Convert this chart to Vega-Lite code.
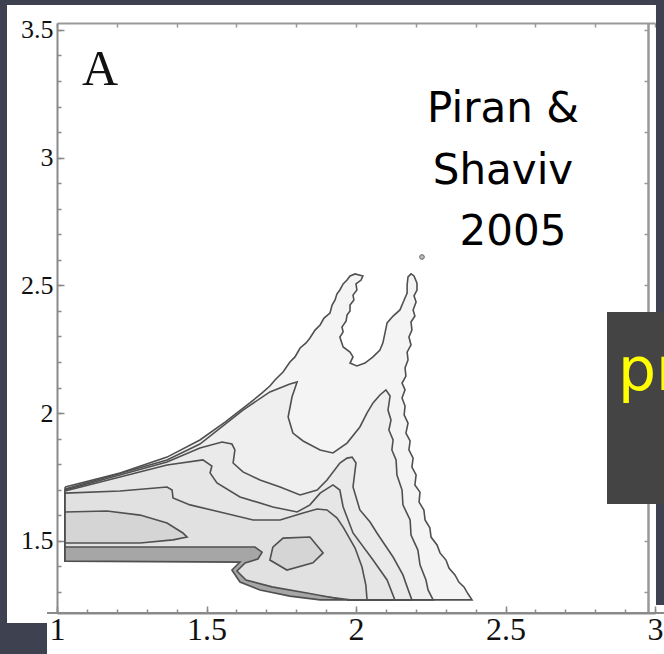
{
  "$schema": "https://vega.github.io/schema/vega-lite/v6.json",
  "width": 598,
  "height": 590,
  "autosize": {"type": "none"},
  "padding": {"left": 57, "top": 23, "right": 9, "bottom": 41},
  "background": "#ffffff",
  "config": {"view": {"stroke": null}},
  "datasets": {
    "one": [{}],
    "c": [
      {"g":"p1","i":0,"x":1.027,"y":1.711},{"g":"p1","i":1,"x":1.211,"y":1.766},{"g":"p1","i":2,"x":1.368,"y":1.828},{"g":"p1","i":3,"x":1.478,"y":1.895},{"g":"p1","i":4,"x":1.562,"y":1.965},{"g":"p1","i":5,"x":1.645,"y":2.040},{"g":"p1","i":6,"x":1.686,"y":2.079},{"g":"p1","i":7,"x":1.712,"y":2.106},{"g":"p1","i":8,"x":1.729,"y":2.130},{"g":"p1","i":9,"x":1.756,"y":2.161},{"g":"p1","i":10,"x":1.779,"y":2.200},{"g":"p1","i":11,"x":1.796,"y":2.220},{"g":"p1","i":12,"x":1.813,"y":2.255},{"g":"p1","i":13,"x":1.833,"y":2.275},{"g":"p1","i":14,"x":1.846,"y":2.294},{"g":"p1","i":15,"x":1.863,"y":2.325},{"g":"p1","i":16,"x":1.880,"y":2.345},{"g":"p1","i":17,"x":1.893,"y":2.372},{"g":"p1","i":18,"x":1.913,"y":2.392},{"g":"p1","i":19,"x":1.920,"y":2.423},{"g":"p1","i":20,"x":1.930,"y":2.443},{"g":"p1","i":21,"x":1.936,"y":2.466},{"g":"p1","i":22,"x":1.946,"y":2.482},{"g":"p1","i":23,"x":1.957,"y":2.506},{"g":"p1","i":24,"x":1.970,"y":2.521},{"g":"p1","i":25,"x":1.980,"y":2.537},{"g":"p1","i":26,"x":1.997,"y":2.545},{"g":"p1","i":27,"x":2.023,"y":2.537},{"g":"p1","i":28,"x":2.017,"y":2.521},{"g":"p1","i":29,"x":2.000,"y":2.506},{"g":"p1","i":30,"x":2.003,"y":2.482},{"g":"p1","i":31,"x":1.990,"y":2.462},{"g":"p1","i":32,"x":1.993,"y":2.443},{"g":"p1","i":33,"x":1.980,"y":2.423},{"g":"p1","i":34,"x":1.980,"y":2.400},{"g":"p1","i":35,"x":1.970,"y":2.384},{"g":"p1","i":36,"x":1.967,"y":2.361},{"g":"p1","i":37,"x":1.953,"y":2.337},{"g":"p1","i":38,"x":1.957,"y":2.318},{"g":"p1","i":39,"x":1.946,"y":2.298},{"g":"p1","i":40,"x":1.957,"y":2.259},{"g":"p1","i":41,"x":1.980,"y":2.239},{"g":"p1","i":42,"x":1.990,"y":2.220},{"g":"p1","i":43,"x":1.980,"y":2.196},{"g":"p1","i":44,"x":2.003,"y":2.185},{"g":"p1","i":45,"x":2.030,"y":2.196},{"g":"p1","i":46,"x":2.057,"y":2.220},{"g":"p1","i":47,"x":2.080,"y":2.247},{"g":"p1","i":48,"x":2.090,"y":2.275},{"g":"p1","i":49,"x":2.097,"y":2.314},{"g":"p1","i":50,"x":2.104,"y":2.353},{"g":"p1","i":51,"x":2.124,"y":2.380},{"g":"p1","i":52,"x":2.147,"y":2.404},{"g":"p1","i":53,"x":2.161,"y":2.443},{"g":"p1","i":54,"x":2.171,"y":2.470},{"g":"p1","i":55,"x":2.171,"y":2.502},{"g":"p1","i":56,"x":2.174,"y":2.533},{"g":"p1","i":57,"x":2.184,"y":2.545},{"g":"p1","i":58,"x":2.194,"y":2.537},{"g":"p1","i":59,"x":2.204,"y":2.509},{"g":"p1","i":60,"x":2.204,"y":2.482},{"g":"p1","i":61,"x":2.194,"y":2.459},{"g":"p1","i":62,"x":2.201,"y":2.435},{"g":"p1","i":63,"x":2.191,"y":2.404},{"g":"p1","i":64,"x":2.197,"y":2.380},{"g":"p1","i":65,"x":2.184,"y":2.357},{"g":"p1","i":66,"x":2.187,"y":2.325},{"g":"p1","i":67,"x":2.177,"y":2.298},{"g":"p1","i":68,"x":2.184,"y":2.267},{"g":"p1","i":69,"x":2.171,"y":2.239},{"g":"p1","i":70,"x":2.174,"y":2.208},{"g":"p1","i":71,"x":2.164,"y":2.177},{"g":"p1","i":72,"x":2.167,"y":2.145},{"g":"p1","i":73,"x":2.154,"y":2.118},{"g":"p1","i":74,"x":2.164,"y":2.091},{"g":"p1","i":75,"x":2.154,"y":2.059},{"g":"p1","i":76,"x":2.164,"y":2.028},{"g":"p1","i":77,"x":2.161,"y":1.993},{"g":"p1","i":78,"x":2.174,"y":1.961},{"g":"p1","i":79,"x":2.167,"y":1.922},{"g":"p1","i":80,"x":2.181,"y":1.891},{"g":"p1","i":81,"x":2.177,"y":1.856},{"g":"p1","i":82,"x":2.191,"y":1.824},{"g":"p1","i":83,"x":2.187,"y":1.789},{"g":"p1","i":84,"x":2.201,"y":1.758},{"g":"p1","i":85,"x":2.197,"y":1.719},{"g":"p1","i":86,"x":2.214,"y":1.691},{"g":"p1","i":87,"x":2.211,"y":1.652},{"g":"p1","i":88,"x":2.227,"y":1.621},{"g":"p1","i":89,"x":2.231,"y":1.582},{"g":"p1","i":90,"x":2.247,"y":1.551},{"g":"p1","i":91,"x":2.251,"y":1.515},{"g":"p1","i":92,"x":2.271,"y":1.484},{"g":"p1","i":93,"x":2.281,"y":1.453},{"g":"p1","i":94,"x":2.301,"y":1.425},{"g":"p1","i":95,"x":2.311,"y":1.394},{"g":"p1","i":96,"x":2.331,"y":1.367},{"g":"p1","i":97,"x":2.344,"y":1.339},{"g":"p1","i":98,"x":2.361,"y":1.320},{"g":"p1","i":99,"x":2.375,"y":1.292},{"g":"p1","i":100,"x":2.388,"y":1.269},{"g":"p1","i":101,"x":1.980,"y":1.269},{"g":"p1","i":102,"x":1.880,"y":1.284},{"g":"p1","i":103,"x":1.779,"y":1.300},{"g":"p1","i":104,"x":1.679,"y":1.316},{"g":"p1","i":105,"x":1.612,"y":1.347},{"g":"p1","i":106,"x":1.592,"y":1.386},{"g":"p1","i":107,"x":1.619,"y":1.417},{"g":"p1","i":108,"x":1.645,"y":1.421},{"g":"p1","i":109,"x":1.027,"y":1.421},{"g":"p1","i":110,"x":1.027,"y":1.711},

      {"g":"pD","i":0,"x":1.027,"y":1.703},{"g":"pD","i":1,"x":1.368,"y":1.817},{"g":"pD","i":2,"x":1.478,"y":1.879},{"g":"pD","i":3,"x":1.622,"y":2.012},{"g":"pD","i":4,"x":1.712,"y":2.083},{"g":"pD","i":5,"x":1.779,"y":2.114},{"g":"pD","i":6,"x":1.803,"y":2.122},{"g":"pD","i":7,"x":1.786,"y":2.063},{"g":"pD","i":8,"x":1.773,"y":1.985},{"g":"pD","i":9,"x":1.789,"y":1.922},{"g":"pD","i":10,"x":1.823,"y":1.891},{"g":"pD","i":11,"x":1.880,"y":1.856},{"g":"pD","i":12,"x":1.923,"y":1.844},{"g":"pD","i":13,"x":1.970,"y":1.883},{"g":"pD","i":14,"x":2.013,"y":1.946},{"g":"pD","i":15,"x":2.037,"y":2.001},{"g":"pD","i":16,"x":2.057,"y":2.040},{"g":"pD","i":17,"x":2.080,"y":2.071},{"g":"pD","i":18,"x":2.100,"y":2.091},{"g":"pD","i":19,"x":2.114,"y":2.067},{"g":"pD","i":20,"x":2.107,"y":2.012},{"g":"pD","i":21,"x":2.117,"y":1.973},{"g":"pD","i":22,"x":2.110,"y":1.934},{"g":"pD","i":23,"x":2.124,"y":1.895},{"g":"pD","i":24,"x":2.120,"y":1.856},{"g":"pD","i":25,"x":2.134,"y":1.817},{"g":"pD","i":26,"x":2.137,"y":1.758},{"g":"pD","i":27,"x":2.154,"y":1.699},{"g":"pD","i":28,"x":2.157,"y":1.641},{"g":"pD","i":29,"x":2.181,"y":1.582},{"g":"pD","i":30,"x":2.184,"y":1.523},{"g":"pD","i":31,"x":2.207,"y":1.464},{"g":"pD","i":32,"x":2.214,"y":1.406},{"g":"pD","i":33,"x":2.234,"y":1.347},{"g":"pD","i":34,"x":2.241,"y":1.308},{"g":"pD","i":35,"x":2.258,"y":1.269},{"g":"pD","i":36,"x":1.980,"y":1.269},{"g":"pD","i":37,"x":1.880,"y":1.284},{"g":"pD","i":38,"x":1.779,"y":1.300},{"g":"pD","i":39,"x":1.679,"y":1.316},{"g":"pD","i":40,"x":1.612,"y":1.347},{"g":"pD","i":41,"x":1.592,"y":1.386},{"g":"pD","i":42,"x":1.619,"y":1.417},{"g":"pD","i":43,"x":1.645,"y":1.421},{"g":"pD","i":44,"x":1.027,"y":1.421},{"g":"pD","i":45,"x":1.027,"y":1.703},

      {"g":"pA","i":0,"x":1.027,"y":1.699},{"g":"pA","i":1,"x":1.368,"y":1.809},{"g":"pA","i":2,"x":1.478,"y":1.864},{"g":"pA","i":3,"x":1.552,"y":1.887},{"g":"pA","i":4,"x":1.585,"y":1.879},{"g":"pA","i":5,"x":1.595,"y":1.856},{"g":"pA","i":6,"x":1.589,"y":1.805},{"g":"pA","i":7,"x":1.622,"y":1.770},{"g":"pA","i":8,"x":1.679,"y":1.738},{"g":"pA","i":9,"x":1.746,"y":1.711},{"g":"pA","i":10,"x":1.813,"y":1.680},{"g":"pA","i":11,"x":1.870,"y":1.699},{"g":"pA","i":12,"x":1.903,"y":1.738},{"g":"pA","i":13,"x":1.946,"y":1.805},{"g":"pA","i":14,"x":1.970,"y":1.824},{"g":"pA","i":15,"x":1.987,"y":1.828},{"g":"pA","i":16,"x":2.000,"y":1.805},{"g":"pA","i":17,"x":1.990,"y":1.711},{"g":"pA","i":18,"x":2.013,"y":1.621},{"g":"pA","i":19,"x":2.047,"y":1.574},{"g":"pA","i":20,"x":2.070,"y":1.531},{"g":"pA","i":21,"x":2.124,"y":1.437},{"g":"pA","i":22,"x":2.157,"y":1.367},{"g":"pA","i":23,"x":2.171,"y":1.320},{"g":"pA","i":24,"x":2.187,"y":1.269},{"g":"pA","i":25,"x":1.980,"y":1.269},{"g":"pA","i":26,"x":1.880,"y":1.284},{"g":"pA","i":27,"x":1.779,"y":1.300},{"g":"pA","i":28,"x":1.679,"y":1.316},{"g":"pA","i":29,"x":1.612,"y":1.347},{"g":"pA","i":30,"x":1.592,"y":1.386},{"g":"pA","i":31,"x":1.619,"y":1.417},{"g":"pA","i":32,"x":1.645,"y":1.421},{"g":"pA","i":33,"x":1.027,"y":1.421},{"g":"pA","i":34,"x":1.027,"y":1.699},

      {"g":"pB","i":0,"x":1.027,"y":1.695},{"g":"pB","i":1,"x":1.368,"y":1.797},{"g":"pB","i":2,"x":1.488,"y":1.817},{"g":"pB","i":3,"x":1.518,"y":1.793},{"g":"pB","i":4,"x":1.512,"y":1.766},{"g":"pB","i":5,"x":1.535,"y":1.727},{"g":"pB","i":6,"x":1.612,"y":1.672},{"g":"pB","i":7,"x":1.722,"y":1.633},{"g":"pB","i":8,"x":1.803,"y":1.613},{"g":"pB","i":9,"x":1.846,"y":1.641},{"g":"pB","i":10,"x":1.880,"y":1.687},{"g":"pB","i":11,"x":1.923,"y":1.719},{"g":"pB","i":12,"x":1.946,"y":1.699},{"g":"pB","i":13,"x":1.957,"y":1.633},{"g":"pB","i":14,"x":1.990,"y":1.531},{"g":"pB","i":15,"x":2.057,"y":1.425},{"g":"pB","i":16,"x":2.104,"y":1.347},{"g":"pB","i":17,"x":2.130,"y":1.269},{"g":"pB","i":18,"x":1.980,"y":1.269},{"g":"pB","i":19,"x":1.880,"y":1.284},{"g":"pB","i":20,"x":1.779,"y":1.300},{"g":"pB","i":21,"x":1.679,"y":1.316},{"g":"pB","i":22,"x":1.612,"y":1.347},{"g":"pB","i":23,"x":1.592,"y":1.386},{"g":"pB","i":24,"x":1.619,"y":1.417},{"g":"pB","i":25,"x":1.645,"y":1.421},{"g":"pB","i":26,"x":1.027,"y":1.421},{"g":"pB","i":27,"x":1.027,"y":1.695},

      {"g":"pC","i":0,"x":1.027,"y":1.687},{"g":"pC","i":1,"x":1.211,"y":1.695},{"g":"pC","i":2,"x":1.368,"y":1.711},{"g":"pC","i":3,"x":1.385,"y":1.699},{"g":"pC","i":4,"x":1.388,"y":1.668},{"g":"pC","i":5,"x":1.445,"y":1.641},{"g":"pC","i":6,"x":1.545,"y":1.613},{"g":"pC","i":7,"x":1.656,"y":1.582},{"g":"pC","i":8,"x":1.746,"y":1.582},{"g":"pC","i":9,"x":1.823,"y":1.609},{"g":"pC","i":10,"x":1.870,"y":1.625},{"g":"pC","i":11,"x":1.903,"y":1.621},{"g":"pC","i":12,"x":1.936,"y":1.590},{"g":"pC","i":13,"x":1.957,"y":1.554},{"g":"pC","i":14,"x":1.997,"y":1.472},{"g":"pC","i":15,"x":2.020,"y":1.398},{"g":"pC","i":16,"x":2.033,"y":1.327},{"g":"pC","i":17,"x":2.037,"y":1.269},{"g":"pC","i":18,"x":1.980,"y":1.269},{"g":"pC","i":19,"x":1.880,"y":1.284},{"g":"pC","i":20,"x":1.779,"y":1.300},{"g":"pC","i":21,"x":1.679,"y":1.316},{"g":"pC","i":22,"x":1.612,"y":1.347},{"g":"pC","i":23,"x":1.592,"y":1.386},{"g":"pC","i":24,"x":1.619,"y":1.417},{"g":"pC","i":25,"x":1.645,"y":1.421},{"g":"pC","i":26,"x":1.027,"y":1.421},{"g":"pC","i":27,"x":1.027,"y":1.687},

      {"g":"lobe","i":0,"x":1.027,"y":1.613},{"g":"lobe","i":1,"x":1.167,"y":1.617},{"g":"lobe","i":2,"x":1.278,"y":1.601},{"g":"lobe","i":3,"x":1.368,"y":1.570},{"g":"lobe","i":4,"x":1.421,"y":1.531},{"g":"lobe","i":5,"x":1.435,"y":1.515},{"g":"lobe","i":6,"x":1.388,"y":1.504},{"g":"lobe","i":7,"x":1.278,"y":1.492},{"g":"lobe","i":8,"x":1.027,"y":1.492},{"g":"lobe","i":9,"x":1.027,"y":1.613},

      {"g":"small","i":0,"x":1.722,"y":1.476},{"g":"small","i":1,"x":1.756,"y":1.511},{"g":"small","i":2,"x":1.846,"y":1.515},{"g":"small","i":3,"x":1.890,"y":1.453},{"g":"small","i":4,"x":1.856,"y":1.414},{"g":"small","i":5,"x":1.769,"y":1.386},{"g":"small","i":6,"x":1.712,"y":1.425},{"g":"small","i":7,"x":1.722,"y":1.476},

      {"g":"band","i":0,"x":1.027,"y":1.476},{"g":"band","i":1,"x":1.662,"y":1.476},{"g":"band","i":2,"x":1.686,"y":1.456},{"g":"band","i":3,"x":1.672,"y":1.429},{"g":"band","i":4,"x":1.629,"y":1.414},{"g":"band","i":5,"x":1.602,"y":1.382},{"g":"band","i":6,"x":1.632,"y":1.347},{"g":"band","i":7,"x":1.719,"y":1.320},{"g":"band","i":8,"x":1.836,"y":1.296},{"g":"band","i":9,"x":1.963,"y":1.269},{"g":"band","i":10,"x":1.880,"y":1.269},{"g":"band","i":11,"x":1.779,"y":1.284},{"g":"band","i":12,"x":1.679,"y":1.308},{"g":"band","i":13,"x":1.612,"y":1.339},{"g":"band","i":14,"x":1.585,"y":1.386},{"g":"band","i":15,"x":1.612,"y":1.417},{"g":"band","i":16,"x":1.027,"y":1.421},{"g":"band","i":17,"x":1.027,"y":1.476}
    ]
  },
  "resolve": {"scale": {"x": "independent", "y": "independent"}},
  "layer": [
    {
      "layer": [
        {
          "data": {"name": "one"},
          "mark": {"type": "rect", "fill": "#3d4150"},
          "encoding": {
            "x": {"datum": 0.8094, "type": "quantitative", "title": null,
              "scale": {"domain": [1, 3], "nice": false, "zero": false},
              "axis": {"orient": "bottom", "title": null, "grid": false, "format": "~g",
                "values": [1, 1.5, 2, 2.5, 3],
                "tickSize": -7, "tickColor": "#8a8a8a", "tickWidth": 1.5,
                "domainColor": "#8a8a8a", "domainWidth": 2,
                "labelFont": "Liberation Serif", "labelFontSize": 32, "labelColor": "#111111",
                "labelPadding": 8, "labelFlush": false, "labelOverlap": false, "labelBaseline": "top"}},
            "x2": {"datum": 0.8328},
            "y": {"datum": 3.617, "type": "quantitative", "title": null,
              "scale": {"domain": [1.2178, 3.527], "nice": false, "zero": false},
              "axis": {"orient": "left", "title": null, "grid": false, "format": "~g",
                "values": [1.5, 2, 2.5, 3, 3.5],
                "tickSize": -7, "tickColor": "#8a8a8a", "tickWidth": 1.5,
                "domainColor": "#8a8a8a", "domainWidth": 2,
                "labelFont": "Liberation Serif", "labelFontSize": 26, "labelColor": "#111111",
                "labelPadding": 11, "labelFlush": false, "labelOverlap": false}},
            "y2": {"datum": 1.0573}
          }
        },
        {
          "data": {"name": "one"},
          "mark": {"type": "rect", "fill": "#3d4150"},
          "encoding": {
            "x": {"datum": 0.8094, "type": "quantitative"}, "x2": {"datum": 3.0301},
            "y": {"datum": 3.617, "type": "quantitative"}, "y2": {"datum": 3.5974}
          }
        },
        {
          "data": {"name": "one"},
          "mark": {"type": "rect", "fill": "#3d4150"},
          "encoding": {
            "x": {"datum": 3.0033, "type": "quantitative"}, "x2": {"datum": 3.0301},
            "y": {"datum": 3.617, "type": "quantitative"}, "y2": {"datum": 1.2491}
          }
        },
        {
          "data": {"name": "one"},
          "mark": {"type": "rect", "fill": "#3d4150"},
          "encoding": {
            "x": {"datum": 0.8094, "type": "quantitative"}, "x2": {"datum": 0.9666},
            "y": {"datum": 1.1786, "type": "quantitative"}, "y2": {"datum": 1.0573}
          }
        },
        {
          "data": {"name": "one"},
          "mark": {"type": "rule", "stroke": "#8a8a8a", "strokeWidth": 2},
          "encoding": {
            "x": {"datum": 0.9666, "type": "quantitative"}, "x2": {"datum": 3.0301},
            "y": {"datum": 1.2178, "type": "quantitative"}
          }
        },
        {
          "data": {"name": "c"},
          "transform": [{"filter": "datum.g == 'p1'"}],
          "mark": {"type": "line", "fill": "#f4f4f4", "stroke": "#505050", "strokeWidth": 1.6},
          "encoding": {
            "x": {"field": "x", "type": "quantitative", "title": null},
            "y": {"field": "y", "type": "quantitative", "title": null},
            "order": {"field": "i", "type": "quantitative"}
          }
        },
        {
          "data": {"name": "c"},
          "transform": [{"filter": "datum.g == 'pD'"}],
          "mark": {"type": "line", "fill": "#efefef", "stroke": "#505050", "strokeWidth": 1.6},
          "encoding": {
            "x": {"field": "x", "type": "quantitative", "title": null},
            "y": {"field": "y", "type": "quantitative", "title": null},
            "order": {"field": "i", "type": "quantitative"}
          }
        },
        {
          "data": {"name": "c"},
          "transform": [{"filter": "datum.g == 'pA'"}],
          "mark": {"type": "line", "fill": "#eaeaea", "stroke": "#505050", "strokeWidth": 1.6},
          "encoding": {
            "x": {"field": "x", "type": "quantitative", "title": null},
            "y": {"field": "y", "type": "quantitative", "title": null},
            "order": {"field": "i", "type": "quantitative"}
          }
        },
        {
          "data": {"name": "c"},
          "transform": [{"filter": "datum.g == 'pB'"}],
          "mark": {"type": "line", "fill": "#e6e6e6", "stroke": "#505050", "strokeWidth": 1.6},
          "encoding": {
            "x": {"field": "x", "type": "quantitative", "title": null},
            "y": {"field": "y", "type": "quantitative", "title": null},
            "order": {"field": "i", "type": "quantitative"}
          }
        },
        {
          "data": {"name": "c"},
          "transform": [{"filter": "datum.g == 'pC'"}],
          "mark": {"type": "line", "fill": "#e1e1e1", "stroke": "#505050", "strokeWidth": 1.6},
          "encoding": {
            "x": {"field": "x", "type": "quantitative", "title": null},
            "y": {"field": "y", "type": "quantitative", "title": null},
            "order": {"field": "i", "type": "quantitative"}
          }
        },
        {
          "data": {"name": "c"},
          "transform": [{"filter": "datum.g == 'lobe' || datum.g == 'small'"}],
          "mark": {"type": "line", "fill": "#d5d5d5", "stroke": "#505050", "strokeWidth": 1.6},
          "encoding": {
            "x": {"field": "x", "type": "quantitative", "title": null},
            "y": {"field": "y", "type": "quantitative", "title": null},
            "detail": {"field": "g"},
            "order": {"field": "i", "type": "quantitative"}
          }
        },
        {
          "data": {"name": "c"},
          "transform": [{"filter": "datum.g == 'band'"}],
          "mark": {"type": "line", "fill": "#a6a6a6", "stroke": "#505050", "strokeWidth": 1.6},
          "encoding": {
            "x": {"field": "x", "type": "quantitative", "title": null},
            "y": {"field": "y", "type": "quantitative", "title": null},
            "order": {"field": "i", "type": "quantitative"}
          }
        },
        {
          "data": {"name": "one"},
          "mark": {"type": "point", "filled": true, "fill": "#bbbbbb", "stroke": "#666666", "strokeWidth": 1, "size": 22, "opacity": 1},
          "encoding": {"x": {"datum": 2.2207, "type": "quantitative"}, "y": {"datum": 2.6111, "type": "quantitative"}}
        },
        {
          "data": {"name": "one"},
          "mark": {"type": "text", "font": "Liberation Serif", "fontSize": 50, "align": "center", "baseline": "alphabetic", "color": "#111111"},
          "encoding": {"x": {"datum": 1.1438, "type": "quantitative"}, "y": {"datum": 3.2843, "type": "quantitative"}, "text": {"value": "A"}}
        },
        {
          "data": {"name": "one"},
          "mark": {"type": "text", "font": "DejaVu Sans", "fontSize": 42, "align": "center", "baseline": "alphabetic", "lineHeight": 61.5, "color": "#000000"},
          "encoding": {"x": {"datum": 2.4916, "type": "quantitative"}, "y": {"datum": 3.1395, "type": "quantitative"}, "text": {"value": ["Piran &", "Shaviv"]}}
        },
        {
          "data": {"name": "one"},
          "mark": {"type": "text", "font": "DejaVu Sans", "fontSize": 42, "align": "center", "baseline": "alphabetic", "color": "#000000"},
          "encoding": {"x": {"datum": 2.5251, "type": "quantitative"}, "y": {"datum": 2.6581, "type": "quantitative"}, "text": {"value": "2005"}}
        }
      ]
    },
    {
      "layer": [
        {
          "data": {"name": "one"},
          "mark": {"type": "point", "opacity": 0},
          "encoding": {
            "x": {"datum": 2, "type": "quantitative", "title": null,
              "scale": {"domain": [1, 3], "nice": false, "zero": false},
              "axis": {"orient": "top", "title": null, "grid": false, "labels": false,
                "values": [1,1.1,1.2,1.3,1.4,1.5,1.6,1.7,1.8,1.9,2,2.1,2.2,2.3,2.4,2.5,2.6,2.7,2.8,2.9,3],
                "tickSize": -4, "tickColor": "#999999", "tickWidth": 1.5, "domainColor": "#999999", "domainWidth": 2}},
            "y": {"datum": 2, "type": "quantitative", "title": null,
              "scale": {"domain": [1.2178, 3.527], "nice": false, "zero": false},
              "axis": {"orient": "right", "offset": -7, "title": null, "grid": false, "labels": false,
                "values": [1.3,1.4,1.5,1.6,1.7,1.8,1.9,2,2.1,2.2,2.3,2.4,2.5,2.6,2.7,2.8,2.9,3,3.1,3.2,3.3,3.4,3.5],
                "tickSize": -4, "tickColor": "#999999", "tickWidth": 1.5, "domainColor": "#999999", "domainWidth": 2.5}}
          }
        },
        {
          "data": {"name": "one"},
          "mark": {"type": "rect", "fill": "#444444"},
          "encoding": {
            "x": {"datum": 2.8395, "type": "quantitative"}, "x2": {"datum": 3.0301},
            "y": {"datum": 2.3959, "type": "quantitative"}, "y2": {"datum": 1.6444}
          }
        },
        {
          "data": {"name": "one"},
          "mark": {"type": "text", "font": "DejaVu Sans", "fontSize": 60, "align": "left", "baseline": "alphabetic", "color": "#ffff00"},
          "encoding": {"x": {"datum": 2.8763, "type": "quantitative"}, "y": {"datum": 2.0906, "type": "quantitative"}, "text": {"value": "pr"}}
        }
      ]
    },
    {
      "data": {"name": "one"},
      "mark": {"type": "point", "opacity": 0},
      "encoding": {
        "x": {"datum": 2, "type": "quantitative", "title": null,
          "scale": {"domain": [1, 3], "nice": false, "zero": false},
          "axis": {"orient": "bottom", "title": null, "grid": false, "labels": false, "domain": false,
            "values": [1,1.1,1.2,1.3,1.4,1.5,1.6,1.7,1.8,1.9,2,2.1,2.2,2.3,2.4,2.5,2.6,2.7,2.8,2.9,3],
            "tickSize": -4, "tickColor": "#8a8a8a", "tickWidth": 1.5}},
        "y": {"datum": 2, "type": "quantitative", "title": null,
          "scale": {"domain": [1.2178, 3.527], "nice": false, "zero": false},
          "axis": {"orient": "left", "title": null, "grid": false, "labels": false, "domain": false,
            "values": [1.3,1.4,1.5,1.6,1.7,1.8,1.9,2,2.1,2.2,2.3,2.4,2.5,2.6,2.7,2.8,2.9,3,3.1,3.2,3.3,3.4,3.5],
            "tickSize": -4, "tickColor": "#8a8a8a", "tickWidth": 1.5}}
      }
    }
  ]
}
